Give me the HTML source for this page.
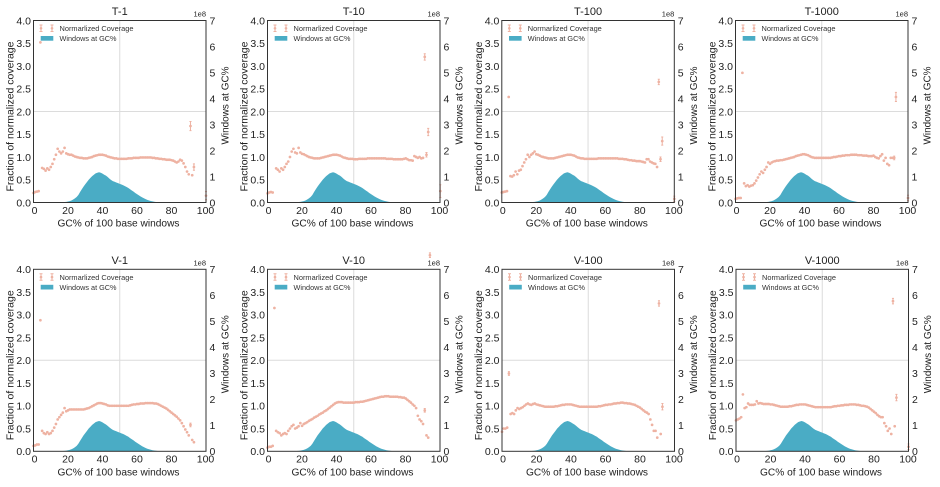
<!DOCTYPE html>
<html><head><meta charset="utf-8"><style>
html,body{margin:0;padding:0;background:#fff}
svg{display:block}
text{font-family:"Liberation Sans",sans-serif;fill:#222}
.t{font-size:11px;text-anchor:middle}
.o{font-size:7.5px;text-anchor:end}
.yl text{font-size:10.5px;text-anchor:end}
.yr text{font-size:10.5px}
.xl text{font-size:10.5px;text-anchor:middle}
.al{font-size:10.5px;text-anchor:middle}
.lg{font-size:7.5px;fill:#333}
.pt{fill:none;stroke:#eeb2a2;stroke-width:2.7;stroke-linecap:round;vector-effect:non-scaling-stroke}
.eb{fill:none;stroke:#eeb2a2;stroke-width:1;vector-effect:non-scaling-stroke}
</style></head><body>
<svg width="940" height="487" viewBox="0 0 940 487" xmlns="http://www.w3.org/2000/svg">
<defs>
<path id="hist" fill="#4aacc5" d="M25.9 0L27.6 -.14L29.33 -.27L31.05 -.46L32.78 -.68L34.5 -1L36.23 -1.37L37.95 -2.05L39.68 -2.96L41.4 -4.1L43.13 -5.46L44.85 -7.51L46.58 -10.47L48.3 -13.2L50.03 -15.93L51.75 -18.2L53.48 -20.48L55.2 -22.75L56.93 -24.57L58.65 -26.39L60.38 -27.76L62.1 -29.12L63.83 -29.8L65.55 -30.26L67.28 -29.8L69 -28.89L70.73 -27.76L72.45 -26.85L74.18 -25.48L75.9 -23.89L77.63 -22.52L79.35 -21.39L81.08 -20.7L82.8 -20.02L84.53 -19.34L86.25 -18.66L87.98 -17.97L89.7 -17.29L91.43 -16.38L93.15 -15.47L94.88 -14.56L96.6 -13.2L98.33 -12.06L100.05 -10.92L101.78 -9.56L103.5 -8.42L105.23 -7.28L106.95 -6.14L108.68 -5.1L110.4 -4.19L112.13 -3.32L113.85 -2.59L115.58 -2L117.3 -1.5L119.03 -1.09L120.75 -.77L122.48 -.5L124.2 -.32L125.93 -.18L127.65 -.09L129.4 0Z"/>
<path id="grid" d="M86.25 -182V0M0 -91H172.5" stroke="#dcdcdc" stroke-width="1" fill="none"/>
<g id="frame">
<rect x="0" y="-182" width="172.5" height="182" fill="none" stroke="#333" stroke-width="1"/>
<path d="M7.5 -177.5V-171M6 -177.5H9M6 -171H9M18.5 -177.5V-171M17 -177.5H20M17 -171H20" stroke="#eeb2a2" stroke-width="1" fill="none"/>
<circle cx="7.5" cy="-174.2" r="1.3" fill="#eeb2a2"/>
<circle cx="18.5" cy="-174.2" r="1.3" fill="#eeb2a2"/>
<rect x="7.2" y="-166.5" width="12.6" height="4.7" fill="#4aacc5"/>
</g>
</defs>

<!-- T-1 -->
<g transform="translate(33.5,202.5)">
<use href="#grid"/>
<g transform="scale(1.725,-45.5)">
<path class="pt" d="M0 .21h.01M1 .23h.01M2 .24h.01M3 .25h.01M4 3.52h.01M5 .76h.01M6 .74h.01M7 .7h.01M8 .75h.01M9 .72h.01M10 .78h.01M11 .85h.01M12 .95h.01M13 1.05h.01M14 1.18h.01M15 1.12h.01M16 1.08h.01M17 1.12h.01M18 1.2h.01M19 1.08h.01M20 1.06h.01M21 1.05h.01M22 1.05h.01M23 1.03h.01M24 1.01h.01M25 1h.01M26 .99h.01M27 .98h.01M28 .98h.01M29 .97h.01M30 .97h.01M31 .97h.01M32 .98h.01M33 .99h.01M34 1h.01M35 1.02h.01M36 1.03h.01M37 1.04h.01M38 1.05h.01M39 1.05h.01M40 1.05h.01M41 1.04h.01M42 1.03h.01M43 1.01h.01M44 1h.01M45 .99h.01M46 .98h.01M47 .97h.01M48 .97h.01M49 .96h.01M50 .96h.01M51 .96h.01M52 .96h.01M53 .96h.01M54 .96h.01M55 .97h.01M56 .97h.01M57 .97h.01M58 .98h.01M59 .98h.01M60 .98h.01M61 .98h.01M62 .99h.01M63 .99h.01M64 .99h.01M65 .99h.01M66 .99h.01M67 .99h.01M68 .99h.01M69 .98h.01M70 .98h.01M71 .97h.01M72 .97h.01M73 .96h.01M74 .96h.01M75 .95h.01M76 .95h.01M77 .94h.01M78 .94h.01M79 .94h.01M80 .93h.01M81 .92h.01M82 .9h.01M83 .88h.01M84 .9h.01M85 .94h.01M86 .92h.01M87 .86h.01M88 .78h.01M89 .68h.01M90 .62h.01M91 1.68h.01M92 .6h.01M93 .78h.01M100 .15h.01"/>
<path class="eb" d="M91 1.58V1.78M90.4 1.58H91.6M90.4 1.78H91.6M93 .71V.85M92.4 .71H93.6M92.4 .85H93.6M100 .06V.24M99.4 .06H100.6M99.4 .24H100.6"/>
</g>
<use href="#hist"/>
<use href="#frame"/>
<text class="t" x="86.25" y="-187.5">T-1</text>
<text class="o" x="172.5" y="-186">1e8</text>
<g class="yl"><text x="-2.5" y="3.8">0.0</text><text x="-2.5" y="-19">0.5</text><text x="-2.5" y="-41.7">1.0</text><text x="-2.5" y="-64.5">1.5</text><text x="-2.5" y="-87.2">2.0</text><text x="-2.5" y="-110">2.5</text><text x="-2.5" y="-132.7">3.0</text><text x="-2.5" y="-155.5">3.5</text><text x="-2.5" y="-178.2">4.0</text></g>
<g class="yr"><text x="176" y="3.8">0</text><text x="176" y="-22.2">1</text><text x="176" y="-48.2">2</text><text x="176" y="-74.2">3</text><text x="176" y="-100.2">4</text><text x="176" y="-126.2">5</text><text x="176" y="-152.2">6</text><text x="176" y="-178.2">7</text></g>
<g class="xl"><text x="1" y="11.3">0</text><text x="34.5" y="11.3">20</text><text x="69" y="11.3">40</text><text x="103.5" y="11.3">60</text><text x="138" y="11.3">80</text><text x="172" y="11.3">100</text></g>
<text class="al" x="85" y="24" textLength="122" lengthAdjust="spacingAndGlyphs">GC% of 100 base windows</text>
<text class="al" transform="translate(-20,-86) rotate(-90)" textLength="150" lengthAdjust="spacingAndGlyphs">Fraction of normalized coverage</text>
<text class="al" transform="translate(195,-97) rotate(-90)" textLength="78" lengthAdjust="spacingAndGlyphs">Windows at GC%</text>
<text class="lg" x="26" y="-171.5" textLength="74" lengthAdjust="spacingAndGlyphs">Normarlized Coverage</text>
<text class="lg" x="26" y="-161.5" textLength="57" lengthAdjust="spacingAndGlyphs">Windows at GC%</text>
</g>

<!-- T-10 -->
<g transform="translate(267.5,202.5)">
<use href="#grid"/>
<g transform="scale(1.728,-45.5)">
<path class="pt" d="M0 .2h.01M1 .22h.01M2 .23h.01M3 .22h.01M5 .75h.01M6 .72h.01M7 .68h.01M8 .75h.01M9 .72h.01M10 .78h.01M11 .85h.01M12 .9h.01M13 1h.01M14 1.12h.01M15 1.18h.01M16 1.1h.01M17 1.08h.01M18 1.2h.01M19 1.1h.01M20 1.07h.01M21 1.06h.01M22 1.04h.01M23 1.02h.01M24 1h.01M25 .99h.01M26 .98h.01M27 .97h.01M28 .97h.01M29 .97h.01M30 .97h.01M31 .98h.01M32 .99h.01M33 1h.01M34 1.01h.01M35 1.02h.01M36 1.03h.01M37 1.04h.01M38 1.05h.01M39 1.05h.01M40 1.05h.01M41 1.04h.01M42 1.03h.01M43 1.01h.01M44 .99h.01M45 .98h.01M46 .97h.01M47 .96h.01M48 .96h.01M49 .96h.01M50 .95h.01M51 .95h.01M52 .95h.01M53 .96h.01M54 .96h.01M55 .96h.01M56 .96h.01M57 .96h.01M58 .97h.01M59 .97h.01M60 .97h.01M61 .97h.01M62 .97h.01M63 .97h.01M64 .97h.01M65 .97h.01M66 .97h.01M67 .97h.01M68 .97h.01M69 .96h.01M70 .96h.01M71 .96h.01M72 .96h.01M73 .95h.01M74 .95h.01M75 .95h.01M76 .95h.01M77 .95h.01M78 .95h.01M79 .96h.01M80 .97h.01M81 .95h.01M82 .93h.01M83 .93h.01M84 .92h.01M85 1.02h.01M86 1h.01M87 .98h.01M88 1h.01M89 .97h.01M90 .98h.01M91 3.2h.01M92 1.05h.01M93 1.55h.01M100 .25h.01"/>
<path class="eb" d="M91 3.13V3.27M90.4 3.13H91.6M90.4 3.27H91.6M92 1V1.1M91.4 1H92.6M91.4 1.1H92.6M93 1.47V1.63M92.4 1.47H93.6M92.4 1.63H93.6M100 .11V.39M99.4 .11H100.6M99.4 .39H100.6"/>
</g>
<use href="#hist"/>
<use href="#frame"/>
<text class="t" x="86.25" y="-187.5">T-10</text>
<text class="o" x="172.5" y="-186">1e8</text>
<g class="yl"><text x="-2.5" y="3.8">0.0</text><text x="-2.5" y="-19">0.5</text><text x="-2.5" y="-41.7">1.0</text><text x="-2.5" y="-64.5">1.5</text><text x="-2.5" y="-87.2">2.0</text><text x="-2.5" y="-110">2.5</text><text x="-2.5" y="-132.7">3.0</text><text x="-2.5" y="-155.5">3.5</text><text x="-2.5" y="-178.2">4.0</text></g>
<g class="yr"><text x="176" y="3.8">0</text><text x="176" y="-22.2">1</text><text x="176" y="-48.2">2</text><text x="176" y="-74.2">3</text><text x="176" y="-100.2">4</text><text x="176" y="-126.2">5</text><text x="176" y="-152.2">6</text><text x="176" y="-178.2">7</text></g>
<g class="xl"><text x="1" y="11.3">0</text><text x="34.5" y="11.3">20</text><text x="69" y="11.3">40</text><text x="103.5" y="11.3">60</text><text x="138" y="11.3">80</text><text x="172" y="11.3">100</text></g>
<text class="al" x="85" y="24" textLength="122" lengthAdjust="spacingAndGlyphs">GC% of 100 base windows</text>
<text class="al" transform="translate(-20,-86) rotate(-90)" textLength="150" lengthAdjust="spacingAndGlyphs">Fraction of normalized coverage</text>
<text class="al" transform="translate(195,-97) rotate(-90)" textLength="78" lengthAdjust="spacingAndGlyphs">Windows at GC%</text>
<text class="lg" x="26" y="-171.5" textLength="74" lengthAdjust="spacingAndGlyphs">Normarlized Coverage</text>
<text class="lg" x="26" y="-161.5" textLength="57" lengthAdjust="spacingAndGlyphs">Windows at GC%</text>
</g>

<!-- T-100 -->
<g transform="translate(501.8,202.5)">
<use href="#grid"/>
<g transform="scale(1.725,-45.5)">
<path class="pt" d="M0 .22h.01M1 .23h.01M2 .24h.01M3 .25h.01M4 2.32h.01M5 .58h.01M6 .57h.01M7 .6h.01M8 .68h.01M9 .62h.01M10 .7h.01M11 .72h.01M12 .8h.01M13 .88h.01M14 .95h.01M15 1.05h.01M16 1h.01M17 1.05h.01M18 1.08h.01M19 1.12h.01M20 1.06h.01M21 1.05h.01M22 1.03h.01M23 1.01h.01M24 1h.01M25 .99h.01M26 .98h.01M27 .97h.01M28 .97h.01M29 .97h.01M30 .97h.01M31 .98h.01M32 .99h.01M33 1h.01M34 1.01h.01M35 1.02h.01M36 1.03h.01M37 1.04h.01M38 1.05h.01M39 1.05h.01M40 1.05h.01M41 1.04h.01M42 1.03h.01M43 1.01h.01M44 .99h.01M45 .98h.01M46 .97h.01M47 .97h.01M48 .96h.01M49 .96h.01M50 .96h.01M51 .96h.01M52 .96h.01M53 .96h.01M54 .96h.01M55 .96h.01M56 .97h.01M57 .97h.01M58 .97h.01M59 .97h.01M60 .97h.01M61 .97h.01M62 .97h.01M63 .97h.01M64 .97h.01M65 .97h.01M66 .97h.01M67 .97h.01M68 .96h.01M69 .96h.01M70 .96h.01M71 .95h.01M72 .95h.01M73 .94h.01M74 .93h.01M75 .93h.01M76 .92h.01M77 .92h.01M78 .91h.01M79 .91h.01M80 .91h.01M81 .9h.01M82 .89h.01M83 .88h.01M84 .95h.01M85 .95h.01M86 .9h.01M87 .88h.01M88 .86h.01M89 .85h.01M90 .78h.01M91 2.65h.01M92 .95h.01M93 1.35h.01M100 .08h.01"/>
<path class="eb" d="M91 2.59V2.71M90.4 2.59H91.6M90.4 2.71H91.6M92 .9V1M91.4 .9H92.6M91.4 1H92.6M93 1.26V1.44M92.4 1.26H93.6M92.4 1.44H93.6M100 .02V.14M99.4 .02H100.6M99.4 .14H100.6"/>
</g>
<use href="#hist"/>
<use href="#frame"/>
<text class="t" x="86.25" y="-187.5">T-100</text>
<text class="o" x="172.5" y="-186">1e8</text>
<g class="yl"><text x="-2.5" y="3.8">0.0</text><text x="-2.5" y="-19">0.5</text><text x="-2.5" y="-41.7">1.0</text><text x="-2.5" y="-64.5">1.5</text><text x="-2.5" y="-87.2">2.0</text><text x="-2.5" y="-110">2.5</text><text x="-2.5" y="-132.7">3.0</text><text x="-2.5" y="-155.5">3.5</text><text x="-2.5" y="-178.2">4.0</text></g>
<g class="yr"><text x="176" y="3.8">0</text><text x="176" y="-22.2">1</text><text x="176" y="-48.2">2</text><text x="176" y="-74.2">3</text><text x="176" y="-100.2">4</text><text x="176" y="-126.2">5</text><text x="176" y="-152.2">6</text><text x="176" y="-178.2">7</text></g>
<g class="xl"><text x="1" y="11.3">0</text><text x="34.5" y="11.3">20</text><text x="69" y="11.3">40</text><text x="103.5" y="11.3">60</text><text x="138" y="11.3">80</text><text x="172" y="11.3">100</text></g>
<text class="al" x="85" y="24" textLength="122" lengthAdjust="spacingAndGlyphs">GC% of 100 base windows</text>
<text class="al" transform="translate(-20,-86) rotate(-90)" textLength="150" lengthAdjust="spacingAndGlyphs">Fraction of normalized coverage</text>
<text class="al" transform="translate(195,-97) rotate(-90)" textLength="78" lengthAdjust="spacingAndGlyphs">Windows at GC%</text>
<text class="lg" x="26" y="-171.5" textLength="74" lengthAdjust="spacingAndGlyphs">Normarlized Coverage</text>
<text class="lg" x="26" y="-161.5" textLength="57" lengthAdjust="spacingAndGlyphs">Windows at GC%</text>
</g>

<!-- T-1000 -->
<g transform="translate(735.5,202.5)">
<use href="#grid"/>
<g transform="scale(1.725,-45.5)">
<path class="pt" d="M0 .08h.01M1 .09h.01M2 .1h.01M3 .1h.01M4 2.85h.01M5 .42h.01M6 .36h.01M7 .38h.01M8 .35h.01M9 .37h.01M10 .38h.01M11 .42h.01M12 .48h.01M13 .55h.01M14 .62h.01M15 .68h.01M16 .65h.01M17 .72h.01M18 .78h.01M19 .88h.01M20 .85h.01M21 .88h.01M22 .9h.01M23 .91h.01M24 .92h.01M25 .92h.01M26 .93h.01M27 .93h.01M28 .94h.01M29 .95h.01M30 .96h.01M31 .97h.01M32 .98h.01M33 .99h.01M34 1h.01M35 1.02h.01M36 1.03h.01M37 1.04h.01M38 1.05h.01M39 1.06h.01M40 1.06h.01M41 1.05h.01M42 1.04h.01M43 1.02h.01M44 1h.01M45 .99h.01M46 .98h.01M47 .98h.01M48 .98h.01M49 .98h.01M50 .98h.01M51 .98h.01M52 .98h.01M53 .98h.01M54 .98h.01M55 .98h.01M56 .99h.01M57 1h.01M58 1h.01M59 1.01h.01M60 1.02h.01M61 1.02h.01M62 1.03h.01M63 1.03h.01M64 1.04h.01M65 1.04h.01M66 1.04h.01M67 1.05h.01M68 1.05h.01M69 1.05h.01M70 1.05h.01M71 1.04h.01M72 1.04h.01M73 1.04h.01M74 1.03h.01M75 1.03h.01M76 1.03h.01M77 1.02h.01M78 1.02h.01M79 1.02h.01M80 1.03h.01M81 1h.01M82 .98h.01M83 .97h.01M84 1.02h.01M85 1.06h.01M86 .92h.01M87 .98h.01M88 .85h.01M89 .82h.01M90 .98h.01M91 .98h.01M92 .98h.01M93 2.32h.01M100 .1h.01"/>
<path class="eb" d="M93 2.22V2.42M92.4 2.22H93.6M92.4 2.42H93.6M92 .94V1.02M91.4 .94H92.6M91.4 1.02H92.6M100 .04V.16M99.4 .04H100.6M99.4 .16H100.6"/>
</g>
<use href="#hist"/>
<use href="#frame"/>
<text class="t" x="86.25" y="-187.5">T-1000</text>
<text class="o" x="172.5" y="-186">1e8</text>
<g class="yl"><text x="-2.5" y="3.8">0.0</text><text x="-2.5" y="-19">0.5</text><text x="-2.5" y="-41.7">1.0</text><text x="-2.5" y="-64.5">1.5</text><text x="-2.5" y="-87.2">2.0</text><text x="-2.5" y="-110">2.5</text><text x="-2.5" y="-132.7">3.0</text><text x="-2.5" y="-155.5">3.5</text><text x="-2.5" y="-178.2">4.0</text></g>
<g class="yr"><text x="176" y="3.8">0</text><text x="176" y="-22.2">1</text><text x="176" y="-48.2">2</text><text x="176" y="-74.2">3</text><text x="176" y="-100.2">4</text><text x="176" y="-126.2">5</text><text x="176" y="-152.2">6</text><text x="176" y="-178.2">7</text></g>
<g class="xl"><text x="1" y="11.3">0</text><text x="34.5" y="11.3">20</text><text x="69" y="11.3">40</text><text x="103.5" y="11.3">60</text><text x="138" y="11.3">80</text><text x="172" y="11.3">100</text></g>
<text class="al" x="85" y="24" textLength="122" lengthAdjust="spacingAndGlyphs">GC% of 100 base windows</text>
<text class="al" transform="translate(-20,-86) rotate(-90)" textLength="150" lengthAdjust="spacingAndGlyphs">Fraction of normalized coverage</text>
<text class="al" transform="translate(195,-97) rotate(-90)" textLength="78" lengthAdjust="spacingAndGlyphs">Windows at GC%</text>
<text class="lg" x="26" y="-171.5" textLength="74" lengthAdjust="spacingAndGlyphs">Normarlized Coverage</text>
<text class="lg" x="26" y="-161.5" textLength="57" lengthAdjust="spacingAndGlyphs">Windows at GC%</text>
</g>

<!-- V-1 -->
<g transform="translate(33.5,451.3)">
<use href="#grid"/>
<g transform="scale(1.725,-45.5)">
<path class="pt" d="M0 .12h.01M1 .13h.01M2 .15h.01M3 .15h.01M4 2.88h.01M5 .45h.01M6 .4h.01M7 .38h.01M8 .42h.01M9 .38h.01M10 .4h.01M11 .45h.01M12 .52h.01M13 .6h.01M14 .7h.01M15 .75h.01M16 .8h.01M17 .85h.01M18 .95h.01M19 .88h.01M20 .9h.01M21 .92h.01M22 .92h.01M23 .92h.01M24 .92h.01M25 .92h.01M26 .92h.01M27 .92h.01M28 .92h.01M29 .92h.01M30 .93h.01M31 .94h.01M32 .95h.01M33 .97h.01M34 .99h.01M35 1.01h.01M36 1.03h.01M37 1.05h.01M38 1.06h.01M39 1.06h.01M40 1.05h.01M41 1.04h.01M42 1.03h.01M43 1.01h.01M44 1h.01M45 1h.01M46 1h.01M47 1h.01M48 1h.01M49 1h.01M50 1h.01M51 1h.01M52 1h.01M53 1h.01M54 1h.01M55 1h.01M56 1.01h.01M57 1.02h.01M58 1.03h.01M59 1.03h.01M60 1.04h.01M61 1.04h.01M62 1.05h.01M63 1.05h.01M64 1.05h.01M65 1.06h.01M66 1.06h.01M67 1.06h.01M68 1.06h.01M69 1.06h.01M70 1.05h.01M71 1.05h.01M72 1.04h.01M73 1.02h.01M74 1h.01M75 .98h.01M76 .96h.01M77 .94h.01M78 .91h.01M79 .88h.01M80 .85h.01M81 .82h.01M82 .79h.01M83 .76h.01M84 .72h.01M85 .68h.01M86 .62h.01M87 .55h.01M88 .48h.01M89 .42h.01M90 .35h.01M91 .58h.01M92 .25h.01M93 .2h.01"/>
<path class="eb" d="M91 .54V.62M90.4 .54H91.6M90.4 .62H91.6"/>
</g>
<use href="#hist"/>
<use href="#frame"/>
<text class="t" x="86.25" y="-187.5">V-1</text>
<text class="o" x="172.5" y="-186">1e8</text>
<g class="yl"><text x="-2.5" y="3.8">0.0</text><text x="-2.5" y="-19">0.5</text><text x="-2.5" y="-41.7">1.0</text><text x="-2.5" y="-64.5">1.5</text><text x="-2.5" y="-87.2">2.0</text><text x="-2.5" y="-110">2.5</text><text x="-2.5" y="-132.7">3.0</text><text x="-2.5" y="-155.5">3.5</text><text x="-2.5" y="-178.2">4.0</text></g>
<g class="yr"><text x="176" y="3.8">0</text><text x="176" y="-22.2">1</text><text x="176" y="-48.2">2</text><text x="176" y="-74.2">3</text><text x="176" y="-100.2">4</text><text x="176" y="-126.2">5</text><text x="176" y="-152.2">6</text><text x="176" y="-178.2">7</text></g>
<g class="xl"><text x="1" y="11.3">0</text><text x="34.5" y="11.3">20</text><text x="69" y="11.3">40</text><text x="103.5" y="11.3">60</text><text x="138" y="11.3">80</text><text x="172" y="11.3">100</text></g>
<text class="al" x="85" y="24" textLength="122" lengthAdjust="spacingAndGlyphs">GC% of 100 base windows</text>
<text class="al" transform="translate(-20,-86) rotate(-90)" textLength="150" lengthAdjust="spacingAndGlyphs">Fraction of normalized coverage</text>
<text class="al" transform="translate(195,-97) rotate(-90)" textLength="78" lengthAdjust="spacingAndGlyphs">Windows at GC%</text>
<text class="lg" x="26" y="-171.5" textLength="74" lengthAdjust="spacingAndGlyphs">Normarlized Coverage</text>
<text class="lg" x="26" y="-161.5" textLength="57" lengthAdjust="spacingAndGlyphs">Windows at GC%</text>
</g>

<!-- V-10 -->
<g transform="translate(267.5,451.3)">
<use href="#grid"/>
<g transform="scale(1.728,-45.5)">
<path class="pt" d="M0 .08h.01M1 .1h.01M2 .1h.01M3 .12h.01M4 3.15h.01M5 .45h.01M6 .42h.01M7 .4h.01M8 .35h.01M9 .38h.01M10 .4h.01M11 .38h.01M12 .45h.01M13 .5h.01M14 .55h.01M15 .58h.01M16 .5h.01M17 .52h.01M18 .55h.01M19 .62h.01M20 .56h.01M21 .6h.01M22 .62h.01M23 .64h.01M24 .67h.01M25 .69h.01M26 .71h.01M27 .74h.01M28 .76h.01M29 .78h.01M30 .81h.01M31 .83h.01M32 .85h.01M33 .88h.01M34 .9h.01M35 .93h.01M36 .96h.01M37 .99h.01M38 1.02h.01M39 1.05h.01M40 1.07h.01M41 1.08h.01M42 1.08h.01M43 1.08h.01M44 1.07h.01M45 1.07h.01M46 1.07h.01M47 1.07h.01M48 1.07h.01M49 1.07h.01M50 1.07h.01M51 1.08h.01M52 1.08h.01M53 1.08h.01M54 1.09h.01M55 1.09h.01M56 1.1h.01M57 1.11h.01M58 1.12h.01M59 1.13h.01M60 1.14h.01M61 1.15h.01M62 1.16h.01M63 1.17h.01M64 1.18h.01M65 1.19h.01M66 1.2h.01M67 1.2h.01M68 1.21h.01M69 1.21h.01M70 1.21h.01M71 1.2h.01M72 1.2h.01M73 1.2h.01M74 1.2h.01M75 1.2h.01M76 1.19h.01M77 1.19h.01M78 1.18h.01M79 1.18h.01M80 1.16h.01M81 1.13h.01M82 1.1h.01M83 1.07h.01M84 1.03h.01M85 1h.01M86 .95h.01M87 .78h.01M88 .7h.01M89 .66h.01M90 .6h.01M91 .9h.01M92 .35h.01M93 .3h.01M94 4.31h.01"/>
<path class="eb" d="M91 .86V.94M90.4 .86H91.6M90.4 .94H91.6M94 4.26V4.36M93.4 4.26H94.6M93.4 4.36H94.6"/>
</g>
<use href="#hist"/>
<use href="#frame"/>
<text class="t" x="86.25" y="-187.5">V-10</text>
<text class="o" x="172.5" y="-186">1e8</text>
<g class="yl"><text x="-2.5" y="3.8">0.0</text><text x="-2.5" y="-19">0.5</text><text x="-2.5" y="-41.7">1.0</text><text x="-2.5" y="-64.5">1.5</text><text x="-2.5" y="-87.2">2.0</text><text x="-2.5" y="-110">2.5</text><text x="-2.5" y="-132.7">3.0</text><text x="-2.5" y="-155.5">3.5</text><text x="-2.5" y="-178.2">4.0</text></g>
<g class="yr"><text x="176" y="3.8">0</text><text x="176" y="-22.2">1</text><text x="176" y="-48.2">2</text><text x="176" y="-74.2">3</text><text x="176" y="-100.2">4</text><text x="176" y="-126.2">5</text><text x="176" y="-152.2">6</text><text x="176" y="-178.2">7</text></g>
<g class="xl"><text x="1" y="11.3">0</text><text x="34.5" y="11.3">20</text><text x="69" y="11.3">40</text><text x="103.5" y="11.3">60</text><text x="138" y="11.3">80</text><text x="172" y="11.3">100</text></g>
<text class="al" x="85" y="24" textLength="122" lengthAdjust="spacingAndGlyphs">GC% of 100 base windows</text>
<text class="al" transform="translate(-20,-86) rotate(-90)" textLength="150" lengthAdjust="spacingAndGlyphs">Fraction of normalized coverage</text>
<text class="al" transform="translate(195,-97) rotate(-90)" textLength="78" lengthAdjust="spacingAndGlyphs">Windows at GC%</text>
<text class="lg" x="26" y="-171.5" textLength="74" lengthAdjust="spacingAndGlyphs">Normarlized Coverage</text>
<text class="lg" x="26" y="-161.5" textLength="57" lengthAdjust="spacingAndGlyphs">Windows at GC%</text>
</g>

<!-- V-100 -->
<g transform="translate(502,451.3)">
<use href="#grid"/>
<g transform="scale(1.725,-45.5)">
<path class="pt" d="M0 .43h.01M1 .5h.01M2 .5h.01M3 .52h.01M4 1.71h.01M5 .82h.01M6 .84h.01M7 .82h.01M8 .9h.01M9 .95h.01M10 .93h.01M11 .95h.01M12 .97h.01M13 1h.01M14 1.03h.01M15 1.05h.01M16 1.03h.01M17 1.02h.01M18 1.04h.01M19 1.05h.01M20 1.03h.01M21 1.02h.01M22 1.01h.01M23 1h.01M24 .99h.01M25 .98h.01M26 .98h.01M27 .98h.01M28 .98h.01M29 .98h.01M30 .98h.01M31 .99h.01M32 .99h.01M33 1h.01M34 1.01h.01M35 1.02h.01M36 1.02h.01M37 1.03h.01M38 1.03h.01M39 1.03h.01M40 1.03h.01M41 1.02h.01M42 1.01h.01M43 1h.01M44 .99h.01M45 .98h.01M46 .98h.01M47 .98h.01M48 .98h.01M49 .98h.01M50 .98h.01M51 .98h.01M52 .98h.01M53 .98h.01M54 .98h.01M55 .98h.01M56 .99h.01M57 .99h.01M58 1h.01M59 1.01h.01M60 1.02h.01M61 1.02h.01M62 1.03h.01M63 1.03h.01M64 1.04h.01M65 1.05h.01M66 1.05h.01M67 1.06h.01M68 1.06h.01M69 1.07h.01M70 1.07h.01M71 1.06h.01M72 1.06h.01M73 1.05h.01M74 1.05h.01M75 1.04h.01M76 1.03h.01M77 1.02h.01M78 1h.01M79 .98h.01M80 .96h.01M81 .93h.01M82 .9h.01M83 .87h.01M84 .85h.01M85 .82h.01M86 .7h.01M87 .58h.01M88 .45h.01M89 .45h.01M90 .3h.01M91 3.25h.01M92 .38h.01M93 .98h.01"/>
<path class="eb" d="M4 1.67V1.75M3.4 1.67H4.6M3.4 1.75H4.6M91 3.19V3.31M90.4 3.19H91.6M90.4 3.31H91.6M93 .91V1.05M92.4 .91H93.6M92.4 1.05H93.6"/>
</g>
<use href="#hist"/>
<use href="#frame"/>
<text class="t" x="86.25" y="-187.5">V-100</text>
<text class="o" x="172.5" y="-186">1e8</text>
<g class="yl"><text x="-2.5" y="3.8">0.0</text><text x="-2.5" y="-19">0.5</text><text x="-2.5" y="-41.7">1.0</text><text x="-2.5" y="-64.5">1.5</text><text x="-2.5" y="-87.2">2.0</text><text x="-2.5" y="-110">2.5</text><text x="-2.5" y="-132.7">3.0</text><text x="-2.5" y="-155.5">3.5</text><text x="-2.5" y="-178.2">4.0</text></g>
<g class="yr"><text x="176" y="3.8">0</text><text x="176" y="-22.2">1</text><text x="176" y="-48.2">2</text><text x="176" y="-74.2">3</text><text x="176" y="-100.2">4</text><text x="176" y="-126.2">5</text><text x="176" y="-152.2">6</text><text x="176" y="-178.2">7</text></g>
<g class="xl"><text x="1" y="11.3">0</text><text x="34.5" y="11.3">20</text><text x="69" y="11.3">40</text><text x="103.5" y="11.3">60</text><text x="138" y="11.3">80</text><text x="172" y="11.3">100</text></g>
<text class="al" x="85" y="24" textLength="122" lengthAdjust="spacingAndGlyphs">GC% of 100 base windows</text>
<text class="al" transform="translate(-20,-86) rotate(-90)" textLength="150" lengthAdjust="spacingAndGlyphs">Fraction of normalized coverage</text>
<text class="al" transform="translate(195,-97) rotate(-90)" textLength="78" lengthAdjust="spacingAndGlyphs">Windows at GC%</text>
<text class="lg" x="26" y="-171.5" textLength="74" lengthAdjust="spacingAndGlyphs">Normarlized Coverage</text>
<text class="lg" x="26" y="-161.5" textLength="57" lengthAdjust="spacingAndGlyphs">Windows at GC%</text>
</g>

<!-- V-1000 -->
<g transform="translate(736,451.3)">
<use href="#grid"/>
<g transform="scale(1.725,-45.5)">
<path class="pt" d="M0 .68h.01M1 .7h.01M2 .72h.01M3 .75h.01M4 1.25h.01M5 .95h.01M6 .97h.01M7 1.05h.01M8 1.02h.01M9 1.02h.01M10 1.02h.01M11 1.03h.01M12 1.1h.01M13 1.05h.01M14 1.06h.01M15 1.05h.01M16 1.04h.01M17 1.04h.01M18 1.04h.01M19 1.04h.01M20 1.03h.01M21 1.03h.01M22 1.02h.01M23 1.01h.01M24 1h.01M25 .99h.01M26 .98h.01M27 .98h.01M28 .98h.01M29 .98h.01M30 .98h.01M31 .99h.01M32 .99h.01M33 1h.01M34 1.01h.01M35 1.02h.01M36 1.02h.01M37 1.03h.01M38 1.03h.01M39 1.03h.01M40 1.03h.01M41 1.02h.01M42 1.01h.01M43 1h.01M44 .99h.01M45 .98h.01M46 .97h.01M47 .97h.01M48 .97h.01M49 .97h.01M50 .97h.01M51 .97h.01M52 .97h.01M53 .97h.01M54 .97h.01M55 .97h.01M56 .98h.01M57 .99h.01M58 .99h.01M59 1h.01M60 1h.01M61 1.01h.01M62 1.01h.01M63 1.02h.01M64 1.02h.01M65 1.02h.01M66 1.03h.01M67 1.03h.01M68 1.03h.01M69 1.03h.01M70 1.02h.01M71 1.02h.01M72 1.01h.01M73 1h.01M74 1h.01M75 .99h.01M76 .98h.01M77 .96h.01M78 .93h.01M79 .9h.01M80 .87h.01M81 .84h.01M82 .8h.01M83 .77h.01M84 .75h.01M85 .75h.01M86 .62h.01M87 .55h.01M88 .45h.01M89 .5h.01M90 .38h.01M91 3.3h.01M92 .55h.01M93 1.18h.01M100 .1h.01"/>
<path class="eb" d="M91 3.24V3.36M90.4 3.24H91.6M90.4 3.36H91.6M93 1.11V1.25M92.4 1.11H93.6M92.4 1.25H93.6M100 .04V.16M99.4 .04H100.6M99.4 .16H100.6"/>
</g>
<use href="#hist"/>
<use href="#frame"/>
<text class="t" x="86.25" y="-187.5">V-1000</text>
<text class="o" x="172.5" y="-186">1e8</text>
<g class="yl"><text x="-2.5" y="3.8">0.0</text><text x="-2.5" y="-19">0.5</text><text x="-2.5" y="-41.7">1.0</text><text x="-2.5" y="-64.5">1.5</text><text x="-2.5" y="-87.2">2.0</text><text x="-2.5" y="-110">2.5</text><text x="-2.5" y="-132.7">3.0</text><text x="-2.5" y="-155.5">3.5</text><text x="-2.5" y="-178.2">4.0</text></g>
<g class="yr"><text x="176" y="3.8">0</text><text x="176" y="-22.2">1</text><text x="176" y="-48.2">2</text><text x="176" y="-74.2">3</text><text x="176" y="-100.2">4</text><text x="176" y="-126.2">5</text><text x="176" y="-152.2">6</text><text x="176" y="-178.2">7</text></g>
<g class="xl"><text x="1" y="11.3">0</text><text x="34.5" y="11.3">20</text><text x="69" y="11.3">40</text><text x="103.5" y="11.3">60</text><text x="138" y="11.3">80</text><text x="172" y="11.3">100</text></g>
<text class="al" x="85" y="24" textLength="122" lengthAdjust="spacingAndGlyphs">GC% of 100 base windows</text>
<text class="al" transform="translate(-20,-86) rotate(-90)" textLength="150" lengthAdjust="spacingAndGlyphs">Fraction of normalized coverage</text>
<text class="al" transform="translate(195,-97) rotate(-90)" textLength="78" lengthAdjust="spacingAndGlyphs">Windows at GC%</text>
<text class="lg" x="26" y="-171.5" textLength="74" lengthAdjust="spacingAndGlyphs">Normarlized Coverage</text>
<text class="lg" x="26" y="-161.5" textLength="57" lengthAdjust="spacingAndGlyphs">Windows at GC%</text>
</g>
</svg>
</body></html>
